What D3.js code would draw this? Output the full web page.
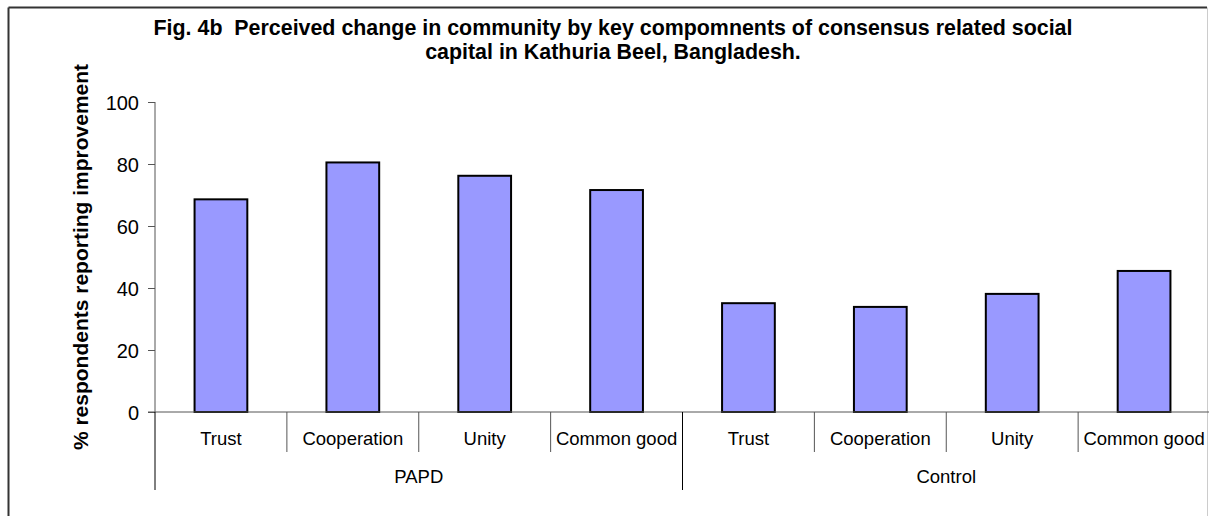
<!DOCTYPE html>
<html>
<head>
<meta charset="utf-8">
<script src="https://cdn.jsdelivr.net/npm/d3@7"></script>
<style>
  body { margin: 0; background: #fff; }
  svg { display: block; font-family: "Liberation Sans", Arial, sans-serif; }
</style>
</head>
<body>
<div id="chart"></div>
<script>
/* ------------------------------------------------ Data ------------------------------------------------ */

const groups = ["PAPD", "Control"];
const components = ["Trust", "Cooperation", "Unity", "Common good"];
const papdValues = [68.6, 80.5, 76.2, 71.6];
const controlValues = [35.1, 33.9, 38.1, 45.5];
const yTicks = [0, 20, 40, 60, 80, 100];
const titleLines = [
    "Fig. 4b  Perceived change in community by key compomnents of consensus related social",
    "capital in Kathuria Beel, Bangladesh."
];
const yLabel = "% respondents reporting improvement";

/* ------------------------------------------------ Chart ------------------------------------------------ */

const width = 1209, height = 516;
const margin = { top: 102, right: -1, bottom: 104, left: 155 };

const rows = [];
groups.forEach((g, gi) => {
    const vals = gi === 0 ? papdValues : controlValues;
    components.forEach((c, ci) => rows.push({ group: g, component: c, key: g + "|" + c, value: vals[ci] }));
});

const svg = d3.select("#chart").append("svg")
    .attr("width", width)
    .attr("height", height);

// outer frame
svg.append("line").attr("x1", 8.5).attr("x2", 1207).attr("y1", 7.5).attr("y2", 7.5)
    .attr("stroke", "#333").attr("stroke-width", 2);
svg.append("line").attr("x1", 8.5).attr("x2", 8.5).attr("y1", 7.5).attr("y2", height)
    .attr("stroke", "#333").attr("stroke-width", 2);
svg.append("line").attr("x1", 1207.5).attr("x2", 1207.5).attr("y1", 7.5).attr("y2", height)
    .attr("stroke", "#ccc").attr("stroke-width", 1);

const x = d3.scaleBand()
    .domain(rows.map(d => d.key))
    .range([margin.left, width - margin.right])
    .padding(0);

const y = d3.scaleLinear()
    .domain([0, 100])
    .range([height - margin.bottom, margin.top]);

const y0 = y(0);
const barW = x.bandwidth() * 0.4;

// bars
svg.selectAll(".bar")
    .data(rows)
    .enter()
    .append("rect")
    .attr("class", "bar")
    .attr("x", d => x(d.key) + (x.bandwidth() - barW) / 2)
    .attr("y", d => y(d.value))
    .attr("width", barW)
    .attr("height", d => y0 - y(d.value))
    .attr("fill", "#9999ff")
    .attr("stroke", "#000")
    .attr("stroke-width", 2);

// y axis
const yAxis = svg.append("g")
    .attr("transform", `translate(${margin.left}, 0)`)
    .call(d3.axisLeft(y).tickValues(yTicks).tickSize(7).tickPadding(9).tickFormat(d3.format("d")));
yAxis.select(".domain").attr("stroke", "#555").attr("d", `M0,${y(100)}V${y0}`);
yAxis.selectAll(".tick line").attr("stroke", "#555");
yAxis.selectAll(".tick text")
    .style("font-size", "20px")
    .attr("fill", "#000")
    .attr("dy", "0.35em");

// baseline
svg.append("line")
    .attr("x1", margin.left - 7).attr("x2", width)
    .attr("y1", y0).attr("y2", y0)
    .attr("stroke", "#555");

// category separators
const step = x.step();
rows.forEach((d, i) => {
    const left = x(d.key);
    const isGroupEdge = i % components.length === 0;
    svg.append("line")
        .attr("x1", left).attr("x2", left)
        .attr("y1", y0).attr("y2", isGroupEdge ? 490 : 452)
        .attr("stroke", isGroupEdge ? "#000" : "#555");
});

// category labels
svg.selectAll(".cat")
    .data(rows)
    .enter()
    .append("text")
    .attr("class", "cat")
    .attr("x", d => x(d.key) + step / 2)
    .attr("y", 445)
    .attr("text-anchor", "middle")
    .style("font-size", "18.5px")
    .text(d => d.component);

// group labels
groups.forEach(g => {
    const first = x(g + "|" + components[0]);
    svg.append("text")
        .attr("x", first + step * components.length / 2)
        .attr("y", 483)
        .attr("text-anchor", "middle")
        .style("font-size", "18.5px")
        .text(g);
});

// y label
svg.append("text")
    .attr("transform", `translate(88, 257) rotate(-90)`)
    .attr("text-anchor", "middle")
    .style("font-size", "21px")
    .style("font-weight", "bold")
    .text(yLabel);

// title
titleLines.forEach((t, i) => {
    svg.append("text")
        .attr("x", 613)
        .attr("y", 34.5 + i * 24.5)
        .attr("text-anchor", "middle")
        .style("font-size", "21.4px")
        .style("font-weight", "bold")
        .style("white-space", "pre")
        .text(t);
});
</script>
</body>
</html>
